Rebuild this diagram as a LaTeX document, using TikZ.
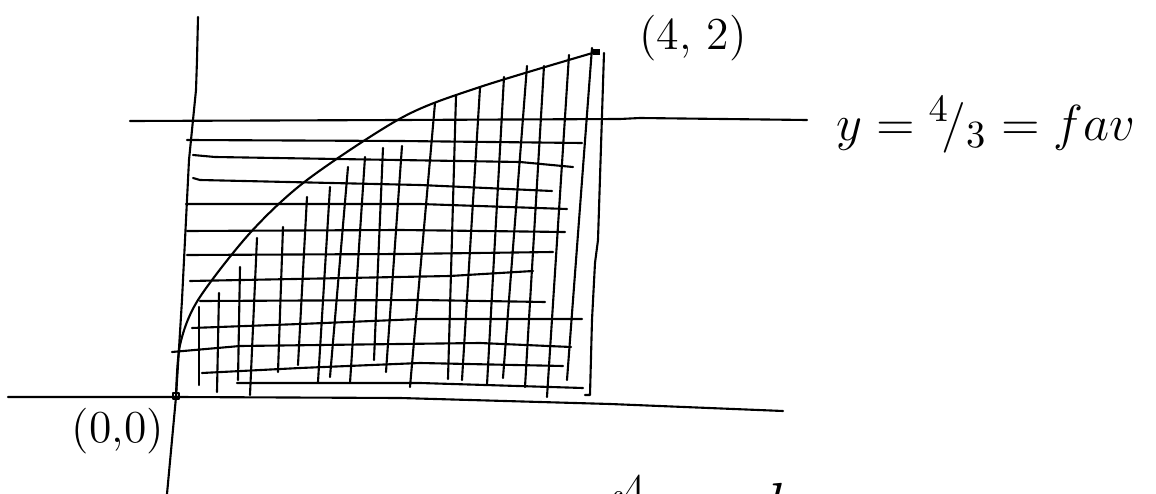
\documentclass[tikz,border=0pt]{standalone}
\begin{document}
\begin{tikzpicture}[x=0.01cm, y=-0.01cm, line width=0.6pt, line join=round, line cap=round,
  every node/.style={inner sep=0pt, font=\fontsize{13}{15}\selectfont}]
  \useasboundingbox (0,0) rectangle (1156,494);
  \clip (0,0) rectangle (1156,494);
  % axes
  \draw (8,397) -- (176,397) -- (400,398) -- (610,404) -- (783,411);
  \draw (198,17) -- (197,60) -- (196,90) -- (193,120) -- (189,160) -- (182,300) -- (176,397) -- (167,494);
  % average value
  \draw (130,121) -- (400,120) -- (620,119) -- (640,118) -- (807,120);
  % sqrt curve
  \draw plot[smooth] coordinates {(176,397) (180,345) (198,300) (250,233) (307,180) (403,117) (480,87) (596,52)};
  % x = 4
  \draw (604,53) -- (598,240) -- (595,263) -- (592,320) -- (590,395) -- (585,395);
  % rectangle hatching
  \draw (187,140) -- (400,141) -- (582,143);
  \draw (193,155) -- (215,157) -- (520,162) -- (573,167);
  \draw (193,178) -- (200,180) -- (420,185) -- (552,191);
  \draw (186,204) -- (420,204) -- (567,209);
  \draw (187,231) -- (400,230) -- (565,232);
  \draw (187,255) -- (400,254) -- (553,252);
  \draw (190,281) -- (450,276) -- (533,271);
  \draw (200,301) -- (420,300) -- (545,302);
  \draw (192,328) -- (300,324) -- (420,319) -- (582,319);
  \draw (172,352) -- (240,346) -- (480,343) -- (571,347);
  \draw (202,373) -- (300,368) -- (420,363) -- (563,366);
  \draw (237,383) -- (420,383) -- (583,388);
  % area hatching
  \foreach \xa/\ya/\xb/\yb in {199/307/199/385, 219/293/217/392, 240/267/238/380,
      257/238/250/395, 283/227/278/372, 307/197/298/365, 330/187/318/382,
      348/167/330/377, 365/157/350/383, 383/148/374/360, 402/146/386/372,
      435/103/410/387, 456/96/448/379, 480/88/462/380, 504/77/487/385,
      527/66/503/378, 544/66/525/387, 569/55/547/397, 592/48/567/380}
    \draw (\xa,\ya) -- (\xb,\yb);
  % end points
  \draw (173,393) rectangle (179,399);
  \fill (593,49) rectangle (600,55);
  % labels
  \node (pointB) at (693,38) {(4, 2)};
  \node (pointA) at (118,431) {(0,0)};
  \node[anchor=base west, font=\fontsize{15}{17}\selectfont] (fav) at (835,140) {$y = {}^{4}\!/{}_{3} = fav$};
  \node[anchor=base west, font=\fontsize{18}{20}\selectfont] (integral) at (600,526) {$\int_0^4 \raisebox{-0.45em}{$\sqrt{x}$}\,dx$};
\end{tikzpicture}
\end{document}
